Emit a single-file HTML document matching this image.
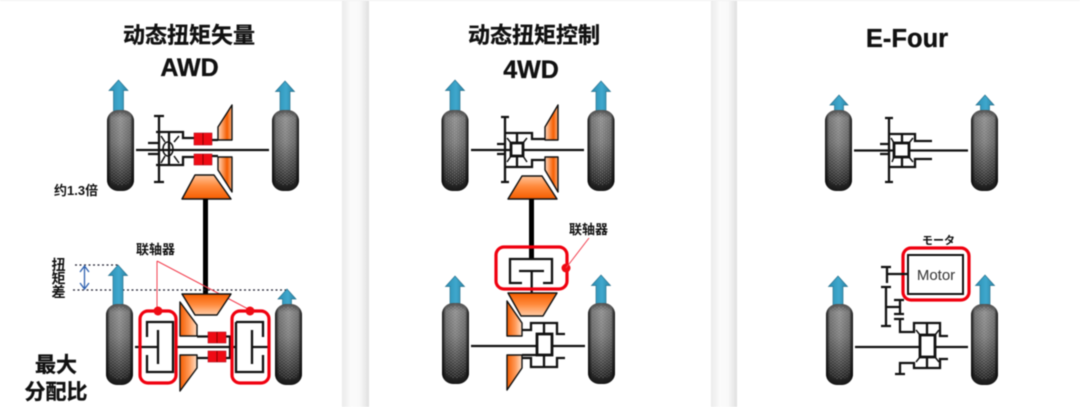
<!DOCTYPE html>
<html lang="zh"><head><meta charset="utf-8"><title>Diagram</title>
<style>
html,body{margin:0;padding:0;width:1080px;height:407px;background:#fff;overflow:hidden}
svg{display:block;filter:blur(.45px)}
text{font-family:"Liberation Sans","Noto Sans CJK SC",sans-serif;fill:#111}
.b{font-weight:700;stroke:#111;stroke-width:.35px}
.m{font-weight:700}
.k{fill:none;stroke:#111;stroke-width:1.500}
.s{fill:none;stroke:#111;stroke-width:2.300}
.q{fill:#fff;stroke:#111;stroke-width:2.800}
.r{fill:none;stroke:#f0000f;stroke-width:3.200}
.e{stroke:#111;stroke-width:1.400;stroke-linejoin:round}
</style></head><body>
<svg width="1080" height="407" viewBox="0 0 1080 407" xmlns="http://www.w3.org/2000/svg">
<defs>
<linearGradient id="g1" x1="0" x2="1" y1="0" y2="0"><stop offset="0" stop-color="#ebebeb"/><stop offset=".35" stop-color="#fbfbfb"/><stop offset=".65" stop-color="#f9f9f9"/><stop offset="1" stop-color="#e0e0e0"/></linearGradient>
<linearGradient id="tv" x1="0" x2="0" y1="0" y2="1"><stop offset="0" stop-color="#555"/><stop offset=".1" stop-color="#909090"/><stop offset=".4" stop-color="#808080"/><stop offset=".72" stop-color="#4e4e4e"/><stop offset="1" stop-color="#181818"/></linearGradient>
<linearGradient id="th" x1="0" x2="1" y1="0" y2="0"><stop offset="0" stop-color="#000" stop-opacity=".9"/><stop offset=".14" stop-color="#000" stop-opacity=".2"/><stop offset=".5" stop-color="#000" stop-opacity="0"/><stop offset=".86" stop-color="#000" stop-opacity=".2"/><stop offset="1" stop-color="#000" stop-opacity=".9"/></linearGradient>
<linearGradient id="ar" x1="0" x2="1" y1="0" y2="0"><stop offset="0" stop-color="#2b8db3"/><stop offset=".55" stop-color="#3fa8cd"/><stop offset="1" stop-color="#2a83a5"/></linearGradient>
<linearGradient id="od" x1="0" x2="0" y1="0" y2="1"><stop offset="0" stop-color="#ffc49a"/><stop offset=".45" stop-color="#ff8a3c"/><stop offset="1" stop-color="#f55d00"/></linearGradient>
<linearGradient id="ou" x1="0" x2="0" y1="0" y2="1"><stop offset="0" stop-color="#f55d00"/><stop offset=".5" stop-color="#ff8a3c"/><stop offset="1" stop-color="#ffcda8"/></linearGradient>
<linearGradient id="ol" x1="0" x2="1" y1="0" y2="0"><stop offset="0" stop-color="#f55d00"/><stop offset=".55" stop-color="#ff9a58"/><stop offset="1" stop-color="#ffe0c8"/></linearGradient>
<linearGradient id="or" x1="1" x2="0" y1="0" y2="0"><stop offset="0" stop-color="#ffb27e"/><stop offset=".35" stop-color="#f55d00"/><stop offset="1" stop-color="#ffd9bf"/></linearGradient>
<pattern id="tr" width="4" height="3" patternUnits="userSpaceOnUse"><path d="M1 0v1.500M3 1.500v1.500" stroke="#ccc" stroke-opacity=".4" stroke-width=".9"/></pattern>
<g id="ty"><rect x="0" y="0" width="27" height="81" rx="11" fill="url(#tv)"/><rect x="3" y="3" width="21" height="72" rx="8" fill="url(#tr)"/><rect x="0" y="0" width="27" height="81" rx="11" fill="url(#th)"/></g>
<path id="ah" d="M0 0L9.500 10.500H5V31H-5V10.500H-9.500Z" fill="url(#ar)" stroke="#2b7490" stroke-width=".7"/>
<path id="al" d="M0 0L9.500 10.500H5V40H-5V10.500H-9.500Z" fill="url(#ar)" stroke="#2b7490" stroke-width=".7"/>
<path id="as" d="M0 0L9 10H4.500V17H-4.500V10H-9Z" fill="url(#ar)" stroke="#2b7490" stroke-width=".7"/>
</defs>

<rect width="1080" height="407" fill="#fff"/>
<rect x="342" width="27" height="407" fill="url(#g1)"/>
<rect x="711" width="26" height="407" fill="url(#g1)"/>
<rect width="1080" height="1" fill="#f1f1f1"/>

<!-- Panel 1 -->
<text x="189" y="43" text-anchor="middle" font-size="22" class="b">动态扭矩矢量</text>
<text x="189.500" y="76" text-anchor="middle" font-size="25" class="b">AWD</text>
<use href="#ah" x="118.500" y="80"/><use href="#ah" x="285" y="81"/>
<use href="#ty" x="107" y="110"/><use href="#ty" x="272" y="110"/>
<path class="s" d="M136 150H269M159 116V182M154 116H164M154 182H164M148 143H159M148 154H159M156 132H183V138H195M156 165H183V157H195M169 132V165M212 140H218M212 156H218"/>
<ellipse cx="168" cy="149" rx="5" ry="7" class="k"/><path class="k" d="M161 136L165 142M179 136L174 142M161 163L165 156M179 163L174 156"/>
<g fill="#ef0b14" stroke="#b01020" stroke-width=".6"><rect x="194" y="133" width="18" height="12"/><rect x="194" y="154" width="18" height="11"/></g>
<path d="M203 133V145M203 154V165" stroke="#800" stroke-width="1"/>
<path class="e" d="M218 127L232 105V140H218Z" fill="url(#or)"/>
<path class="e" d="M218 157H232V192L218 170Z" fill="url(#or)"/>
<path class="e" d="M182 199L195 175H214L231 199Z" fill="url(#od)"/>
<rect x="203" y="199" width="5" height="96" fill="#000"/>
<text x="54" y="195" font-size="13" class="m">约1.3倍</text>
<text x="136" y="254" font-size="13" class="m">联轴器</text>
<text x="58.500" y="270" text-anchor="middle" font-size="14" class="m">扭</text>
<text x="58.500" y="283.500" text-anchor="middle" font-size="14" class="m">矩</text>
<text x="58.500" y="297" text-anchor="middle" font-size="14" class="m">差</text>
<path d="M75 265H118M73 290H287" stroke="#223" stroke-width="1.300" stroke-dasharray="2 2.500" fill="none"/>
<path d="M84.500 267V288M80 272L84.500 266L89 272M80 283L84.500 289L89 283" fill="none" stroke="#2f62b0" stroke-width="1.300"/>
<path d="M157 261V310M157 261L250 310" stroke="#f24050" stroke-width="1" fill="none"/>
<use href="#al" x="118" y="265"/>
<use href="#as" x="287" y="289"/>
<use href="#ty" x="106" y="304"/><use href="#ty" x="275" y="304"/>
<path class="e" d="M182 294H231L217 315H195Z" fill="url(#ou)"/>
<path class="e" d="M180 302L197 325V336H180Z" fill="url(#ol)"/>
<path class="e" d="M180 355H197V368L180 391Z" fill="url(#ol)"/>
<path class="s" d="M197 336.500H230V358H197M177 347H236M135 347H158M147 337V322H173V372H147V355M158 330V364M236 322H263V337M236 322V372H263V355M252 330V364M252 347H270"/>
<g fill="#ef0b14" stroke="#b01020" stroke-width=".6"><rect x="208" y="332" width="18" height="11"/><rect x="208" y="351" width="18" height="11"/></g>
<path d="M217 332V343M217 351V362" stroke="#800" stroke-width="1"/>
<rect class="r" x="140" y="311" width="36" height="72" rx="8"/><rect class="r" x="232" y="311" width="37" height="72" rx="8"/>
<circle cx="158" cy="311" r="4.500" fill="#ef0b14"/><circle cx="250" cy="311" r="4.500" fill="#ef0b14"/>
<text x="56" y="372" text-anchor="middle" font-size="21" class="b">最大</text>
<text x="56" y="399" text-anchor="middle" font-size="21" class="b">分配比</text>

<!-- Panel 2 -->
<text x="534" y="43" text-anchor="middle" font-size="22" class="b">动态扭矩控制</text>
<text x="531" y="78" text-anchor="middle" font-size="25" class="b">4WD</text>
<use href="#ah" x="455" y="80"/><use href="#ah" x="601" y="81"/>
<use href="#ty" x="441.500" y="110"/><use href="#ty" x="587.500" y="110"/>
<path class="s" d="M471 150H584M505 117V182M501 117H509M501 182H509M497 144H505M497 154H505M505 133H532V139H545M505 167H532V160H545M517 133V143M517 157V167"/>
<rect x="511" y="143" width="12" height="13" class="q"/>
<path class="k" d="M507 138L511 143M527 138L523 143M507 162L511 156M527 162L523 156"/>
<path class="e" d="M545 127L558 105V140H545Z" fill="url(#or)"/>
<path class="e" d="M545 157H558V192L545 170Z" fill="url(#or)"/>
<path class="e" d="M508 199L522 176H542L557 199Z" fill="url(#od)"/>
<rect x="529" y="199" width="5" height="60" fill="#000"/>
<path class="s" d="M522 283H510V259H552V283H543M519 271H544M531.700 271V294"/>
<rect class="r" x="496" y="247" width="71" height="42" rx="8"/>
<circle cx="566" cy="268" r="4.500" fill="#ef0b14"/>
<path d="M566 268L589 238" stroke="#f24050" stroke-width="1"/>
<text x="569" y="234" font-size="13" class="m">联轴器</text>
<use href="#ah" x="455" y="276"/><use href="#ah" x="601" y="275"/>
<use href="#ty" x="442" y="303"/><use href="#ty" x="588" y="303"/>
<path class="e" d="M508 293H557L543 316H521Z" fill="url(#ou)"/>
<path class="e" d="M507 301L522 323V336H507Z" fill="url(#ol)"/>
<path class="e" d="M507 355H522V368L507 390Z" fill="url(#ol)"/>
<path class="s" d="M522 330H531V323H557V334H565M522 358H531V367H557V358H565M471 346H537M553 346H585M522 355H537M544 323V333M544 355V367"/>
<rect x="537" y="334" width="15" height="21" class="q"/>

<!-- Panel 3 -->
<text x="907" y="47" text-anchor="middle" font-size="25.500" class="b">E-Four</text>
<use href="#as" x="839" y="95"/><use href="#as" x="985" y="95"/>
<use href="#ty" x="825" y="110"/><use href="#ty" x="971" y="110"/>
<path class="s" d="M854 150.500H968M889 118V182M885 118H893M885 182H893M880 144H889M880 154H889M889 134H915V141H932M889 167H915V159H932M902 134V143M902 157V167"/>
<rect x="894" y="143" width="15" height="14" class="q"/>
<path class="k" d="M891 138L894 143M913 138L909 143M892 162L894 157M913 162L909 157"/>
<text x="938.500" y="244" text-anchor="middle" font-size="11" class="m" style="font-family:'Liberation Sans','Noto Sans CJK JP',sans-serif">モータ</text>
<path d="M928 249Q938 246 946 249" fill="none" stroke="#111"/>
<rect class="r" x="903" y="248" width="66" height="52" rx="8"/>
<rect x="908" y="255" width="55" height="39" fill="none" stroke="#111" stroke-width="2"/>
<text x="936" y="280" text-anchor="middle" font-size="15" style="fill:#333">Motor</text>
<use href="#ah" x="838" y="276"/><use href="#ah" x="985" y="275"/>
<use href="#ty" x="826" y="304"/><use href="#ty" x="971" y="304"/>
<path class="s" d="M887 267V283M881 267H891M887 274H908M881 287H891M886 287V326M881 326H891M886 307H900M900 300V314M894 300H904M894 314H904M894 319H904M900 319V332H914V323H940V336H948M927 323V335M927 357V369M855 347H920M935 347H968M948 359H940V368H914V363H900V374M895 374H905"/>
<rect x="920" y="335" width="15" height="22" class="q"/>
<path class="k" d="M916 330L920 335M939 330L935 335M916 362L920 357M939 362L935 357"/>
</svg>
</body></html>
